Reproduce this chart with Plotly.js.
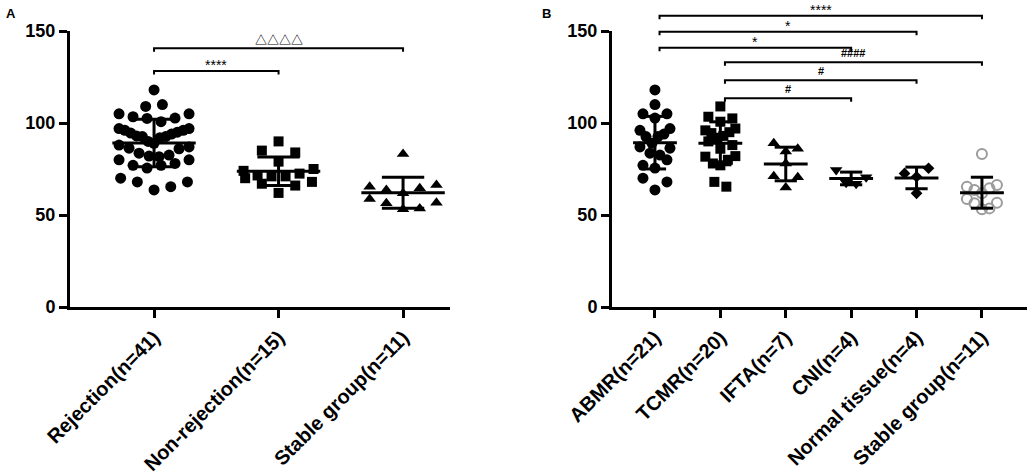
<!DOCTYPE html>
<html><head><meta charset="utf-8">
<script src="https://cdn.plot.ly/plotly-3.0.1.min.js"></script>
<style>html,body{margin:0;padding:0;background:#fff;} #chart{width:1030px;height:475px;}</style>
</head><body><div id="chart"></div>
<script>
// ---------- DATA ----------
const groupsA = ['Rejection(n=41)', 'Non-rejection(n=15)', 'Stable group(n=11)'];
const groupsB = ['ABMR(n=21)', 'TCMR(n=20)', 'IFTA(n=7)', 'CNI(n=4)', 'Normal tissue(n=4)', 'Stable group(n=11)'];

const abmr = [118, 110, 105, 105, 102.7, 97, 96, 94, 92.6, 92.6, 89, 87, 86.3, 83.6, 82.6, 80, 77, 75.5, 70, 68, 63.6];
const tcmr = [109, 103.4, 102.5, 100.7, 97, 96, 95, 94.5, 93, 92, 90, 88, 86, 82, 81.7, 80, 78, 77, 68, 65.4];
const ifta = [89, 86, 84.5, 78, 71, 70.5, 65];
const cni = [74.5, 70.5, 67.5, 67];
const normalTissue = [75.4, 72.6, 70.8, 61.8];
const stable = [83.2, 66.3, 65.4, 64.5, 63.6, 61.8, 58.7, 56.7, 56.4, 53.6, 53.1];
const nonRejection = [90, 85, 84, 79, 75, 74, 72.5, 71.5, 71, 71, 70, 68, 67, 66, 62];
const rejection = abmr.concat(tcmr);   // rejection = ABMR + TCMR (n=41)

const yTicks = [0, 50, 100, 150];

// significance brackets (group index from/to, bracket level in data units, label)
const sigAFrom = [0, 0];
const sigATo = [1, 2];
const sigALevel = [128.3, 140.6];
const sigALabel = ['****', '△△△△'];

const sigBFrom = [0, 0, 0, 1, 1, 1];
const sigBTo = [5, 4, 3, 5, 4, 3];
const sigBLevel = [158.3, 149.6, 140.9, 133.0, 123.2, 113.4];
const sigBLabel = ['****', '*', '*', '####', '#', '#'];

// ---------- GEOMETRY ----------
const W = 1030, H = 475;
const yDom = [1 - 307 / H, 1 - 31 / H];
const yRange = [0, 150];
const xDomA = [70 / W, 450 / W], xRangeA = [-0.675, 2.377];
const xDomB = [612 / W, 1027 / W], xRangeB = [-0.657, 5.689];

function xPaper(dom, rng, v) { return dom[0] + (v - rng[0]) / (rng[1] - rng[0]) * (dom[1] - dom[0]); }
function yPaper(v) { return yDom[0] + (v - yRange[0]) / (yRange[1] - yRange[0]) * (yDom[1] - yDom[0]); }
const pxY = (yDom[1] - yDom[0]) * H / (yRange[1] - yRange[0]);
const pxXA = (xDomA[1] - xDomA[0]) * W / (xRangeA[1] - xRangeA[0]);
const pxXB = (xDomB[1] - xDomB[0]) * W / (xRangeB[1] - xRangeB[0]);

// scatter-dot layout: values grouped into horizontal rows, each row spread symmetrically
function rowOffsets(vals, rowPx, R, smax, pxX) {
  const rowUnits = rowPx / pxY;
  const mn = Math.min.apply(null, vals);
  const bins = {};
  vals.forEach((v, i) => { const b = Math.floor((v - mn) / rowUnits + 1e-9); (bins[b] = bins[b] || []).push(i); });
  const off = new Array(vals.length).fill(0);
  let flip = 1;
  Object.keys(bins).forEach(b => {
    const idx = bins[b].slice().sort((p, q) => vals[p] - vals[q]);
    const n = idx.length;
    const s = n > 1 ? Math.min(2 * R / (n - 1), smax) : 0;
    const slots = [];
    for (let k = 0; k < n; k++) slots.push((k - (n - 1) / 2) * s);
    slots.sort((p, q) => (Math.abs(p) - Math.abs(q)) || (flip * (q - p)));
    flip = -flip;
    idx.forEach((i, k) => { off[i] = slots[k] / pxX; });
  });
  return off;
}

function mean(a) { return a.reduce((s, v) => s + v, 0) / a.length; }
function sd(a) { const m = mean(a); return Math.sqrt(a.reduce((s, v) => s + (v - m) * (v - m), 0) / (a.length - 1)); }

function pointsTrace(vals, idx, cfg, marker, xa, ya) {
  const off = rowOffsets(vals, cfg.row, cfg.R, cfg.smax, cfg.px);
  return { type: 'scatter', mode: 'markers', x: off.map(o => idx + o), y: vals, xaxis: xa, yaxis: ya,
           marker: marker, hoverinfo: 'y', showlegend: false };
}
function statTrace(groups, xa, ya) {
  const x = [], y = [];
  groups.forEach((vals, i) => {
    const m = mean(vals), s = sd(vals);
    x.push(i - 0.335, i + 0.335, null, i, i, null, i - 0.17, i + 0.17, null, i - 0.17, i + 0.17, null);
    y.push(m, m, null, m - s, m + s, null, m + s, m + s, null, m - s, m - s, null);
  });
  return { type: 'scatter', mode: 'lines', x: x, y: y, xaxis: xa, yaxis: ya,
           line: { color: '#000', width: 3 }, hoverinfo: 'skip', showlegend: false };
}

const black = '#000';
const mk = (symbol, size) => ({ symbol: symbol, size: size, color: black, line: { width: 0 } });

const cfgA = { row: 15.5, R: 35, smax: 16.7, px: pxXA };
const cfgB = { row: 15.5, R: 15, smax: 12, px: pxXB };
const data = [
  pointsTrace(rejection, 0, cfgA, mk('circle', 11), 'x', 'y'),
  pointsTrace(nonRejection, 1, cfgA, mk('square', 10), 'x', 'y'),
  pointsTrace(stable, 2, cfgA, mk('triangle-up', 11), 'x', 'y'),
  statTrace([rejection, nonRejection, stable], 'x', 'y'),

  pointsTrace(abmr, 0, cfgB, mk('circle', 11), 'x2', 'y2'),
  pointsTrace(tcmr, 1, cfgB, mk('square', 10), 'x2', 'y2'),
  pointsTrace(ifta, 2, cfgB, mk('triangle-up', 11), 'x2', 'y2'),
  pointsTrace(cni, 3, cfgB, mk('triangle-down', 11), 'x2', 'y2'),
  pointsTrace(normalTissue, 4, cfgB, mk('diamond', 9), 'x2', 'y2'),
  pointsTrace(stable, 5, cfgB, { symbol: 'circle-open', size: 10, color: '#9b9b9b', line: { width: 2, color: '#9b9b9b' } }, 'x2', 'y2'),
  statTrace([abmr, tcmr, ifta, cni, normalTissue, stable], 'x2', 'y2')
];

// ---------- brackets ----------
const shapes = [], annotations = [];
const endTick = 3.5 / H, textGap = 9 / H;
function addBrackets(from, to, level, label, dom, rng, leftShift) {
  level.forEach((lv, k) => {
    const x1 = xPaper(dom, rng, from[k] + leftShift), x2 = xPaper(dom, rng, to[k]);
    const yl = yPaper(lv);
    shapes.push({ type: 'path', xref: 'paper', yref: 'paper',
      path: `M${x1},${yl - endTick} L${x1},${yl} L${x2},${yl} L${x2},${yl - endTick}`,
      line: { color: '#000', width: 2 } });
    const isTri = label[k].indexOf('△') >= 0, isHash = label[k].indexOf('#') >= 0;
    annotations.push({ xref: 'paper', yref: 'paper', x: (x1 + x2) / 2, y: yl + textGap + (isTri || isHash ? 0 : -3 / H),
      text: label[k], showarrow: false, xanchor: 'center', yanchor: 'middle',
      font: { family: isTri ? 'Noto Sans CJK SC' : 'Liberation Sans, Arial', size: isTri ? 12 : (isHash ? 11 : 14),
              weight: (isTri || isHash) ? 'bold' : 'normal', color: '#000' } });
  });
}
addBrackets(sigAFrom, sigATo, sigALevel, sigALabel, xDomA, xRangeA, 0);
addBrackets(sigBFrom, sigBTo, sigBLevel, sigBLabel, xDomB, xRangeB, 0.07);

annotations.push({ xref: 'paper', yref: 'paper', x: 4 / W, y: 1 - 4 / H, xanchor: 'left', yanchor: 'top', showarrow: false,
  text: 'A', font: { family: 'Liberation Sans, Arial', size: 13, weight: 'bold', color: '#000' } });
annotations.push({ xref: 'paper', yref: 'paper', x: 540 / W, y: 1 - 4 / H, xanchor: 'left', yanchor: 'top', showarrow: false,
  text: 'B', font: { family: 'Liberation Sans, Arial', size: 13, weight: 'bold', color: '#000' } });

const xTickFont = { family: 'Liberation Sans, Arial', size: 20, weight: 'bold', color: '#000' };
const yTickFont = { family: 'Liberation Sans, Arial', size: 18, weight: 'bold', color: '#000' };
const axCommon = { showline: true, linewidth: 3, linecolor: '#000', ticks: 'outside', ticklen: 8, tickwidth: 3,
  tickcolor: '#000', showgrid: false, zeroline: false, fixedrange: true };

const layout = {
  width: W, height: H, margin: { l: 0, r: 0, t: 0, b: 0 },
  paper_bgcolor: '#fff', plot_bgcolor: '#fff', showlegend: false,
  xaxis: Object.assign({}, axCommon, { tickfont: xTickFont, domain: xDomA, range: xRangeA, tickvals: [0, 1, 2], ticktext: groupsA, tickangle: -45, anchor: 'y' }),
  yaxis: Object.assign({}, axCommon, { tickfont: yTickFont, domain: yDom, range: yRange, tickvals: yTicks, anchor: 'x' }),
  xaxis2: Object.assign({}, axCommon, { tickfont: xTickFont, domain: xDomB, range: xRangeB, tickvals: [0, 1, 2, 3, 4, 5], ticktext: groupsB, tickangle: -45, anchor: 'y2' }),
  yaxis2: Object.assign({}, axCommon, { tickfont: yTickFont, domain: yDom, range: yRange, tickvals: yTicks, anchor: 'x2' }),
  shapes: shapes, annotations: annotations
};

Plotly.newPlot('chart', data, layout, { displayModeBar: false, staticPlot: true });
</script></body></html>
